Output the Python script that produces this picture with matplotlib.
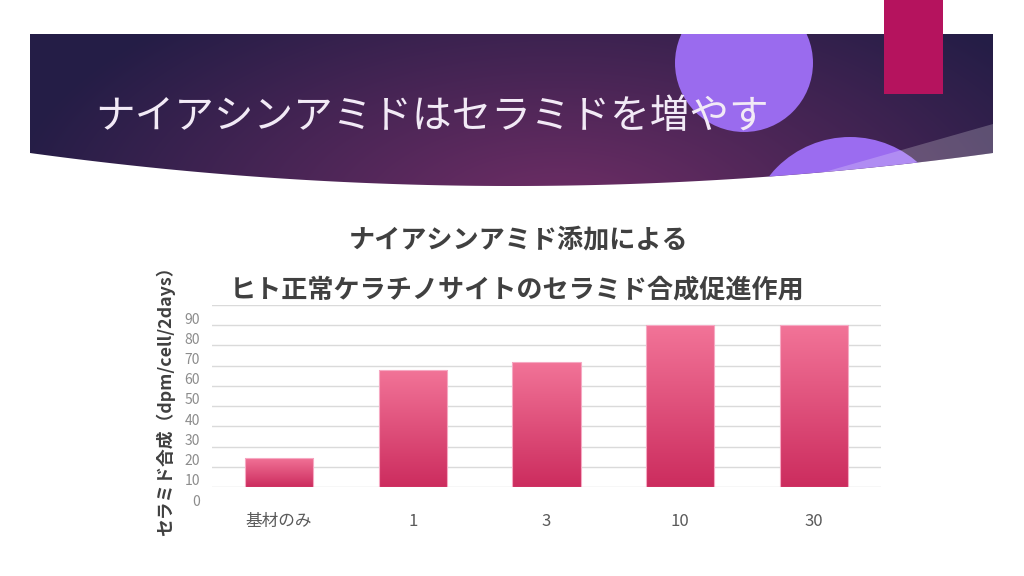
import numpy as np
import matplotlib
matplotlib.use('Agg')
import matplotlib.pyplot as plt
from matplotlib.patches import Rectangle, Circle, PathPatch, Polygon
from matplotlib.path import Path
import matplotlib.transforms as mtransforms

plt.rcParams['font.family'] = ['Noto Sans CJK JP', 'DejaVu Sans']

# ---- data ----
slide_title = 'ナイアシンアミドはセラミドを増やす'
chart_title_1 = 'ナイアシンアミド添加による'
chart_title_2 = 'ヒト正常ケラチノサイトのセラミド合成促進作用'
y_label = 'セラミド合成（dpm/cell/2days）'
categories = ['基材のみ', '1', '3', '10', '30']
values = [14.5, 58, 62, 80, 80]
y_ticks = [0, 10, 20, 30, 40, 50, 60, 70, 80, 90]

W, H = 1024, 576
fig = plt.figure(figsize=(10.24, 5.76), dpi=100)
fig.patch.set_facecolor('white')

# ---- background slide decoration ----
bg = fig.add_axes([0, 0, 1, 1])
bg.set_xlim(0, W)
bg.set_ylim(H, 0)
bg.axis('off')

xs = np.linspace(30, 993, 200)
bottom = 153 + 33 * (1 - ((xs - 511.5) / 481.5) ** 2)
verts = [(30, 34), (993, 34)] + list(zip(xs[::-1], bottom[::-1])) + [(30, 34)]
codes = [Path.MOVETO] + [Path.LINETO] * (len(verts) - 2) + [Path.CLOSEPOLY]
banner_path = Path(verts, codes)
banner = PathPatch(banner_path, facecolor='none', edgecolor='none')
bg.add_patch(banner)

yy, xx = np.mgrid[0:H, 0:W]
t = np.clip(np.sqrt(((xx - 560) / 560.0) ** 2 + ((yy - 215) / 270.0) ** 2), 0, 1)
c_center = np.array([112, 46, 102]) / 255.0
c_edge = np.array([36, 29, 70]) / 255.0
img = c_center * (1 - t[..., None]) + c_edge * t[..., None]
im = bg.imshow(img, extent=(0, W, H, 0), origin='upper', aspect='auto', zorder=1)
im.set_clip_path(banner)

c1 = Circle((744, 63), 69, facecolor='#9a6bee', edgecolor='none', zorder=2)
bg.add_patch(c1)
c1.set_clip_path(banner)
c2 = Circle((850, 240), 103, facecolor='#9b6cf0', edgecolor='none', zorder=2)
bg.add_patch(c2)
c2.set_clip_path(banner)
band = Polygon([(993, 124), (740, 196), (993, 220)], closed=True,
               facecolor='white', alpha=0.22, edgecolor='none', zorder=3)
bg.add_patch(band)
band.set_clip_path(banner)

bg.add_patch(Rectangle((884, 0), 59, 94, facecolor='#b5135e', edgecolor='none', zorder=4))

bg.text(95, 117, slide_title, color='#f2eaf6', fontsize=28.5,
        va='center', ha='left', zorder=5)

# ---- chart ----
ax = fig.add_axes([212 / W, 1 - 487 / H, (881 - 212) / W, (487 - 305) / H])
ax.patch.set_alpha(0)
x = np.arange(len(categories))
bars = ax.bar(x, values, width=0.51, color='none', edgecolor='#f6a9c3',
              linewidth=0.8, zorder=3)
top_c = np.array([242, 116, 152]) / 255.0
bot_c = np.array([204, 44, 94]) / 255.0
g = np.linspace(0, 1, 256)[:, None, None]
grad = bot_c * (1 - g) + top_c * g
for b in bars:
    gi = ax.imshow(grad, extent=(b.get_x(), b.get_x() + b.get_width(), 0, b.get_height()),
                   origin='lower', aspect='auto', zorder=2, interpolation='bilinear')
    gi.set_clip_path(b)

ax.set_xlim(-0.5, len(categories) - 0.5)
ax.set_ylim(0, 90)
ax.set_yticks(y_ticks)
ax.set_xticks(x, categories)
ax.yaxis.grid(True, color='#dadada', linewidth=1)
ax.set_axisbelow(True)
for s in ax.spines.values():
    s.set_visible(False)
ax.tick_params(axis='both', length=0)
ax.tick_params(axis='x', pad=19, labelsize=12, labelcolor='#5a5a5a')
ax.tick_params(axis='y', pad=8.6, labelsize=10, labelcolor='#8c8c8c')
offset = mtransforms.ScaledTranslation(0, -13 / 100, fig.dpi_scale_trans)
for lab in ax.get_yticklabels():
    lab.set_transform(lab.get_transform() + offset)

fig.text(165 / W, 1 - 397 / H, y_label, rotation=90, fontsize=12.8,
         fontweight='bold', color='#404040', va='center', ha='center')
fig.text(519 / W, 1 - 240 / H, chart_title_1, ha='center', va='center',
         fontsize=18.8, fontweight='bold', color='#404040')
fig.text(517 / W, 1 - 290 / H, chart_title_2, ha='center', va='center',
         fontsize=18.8, fontweight='bold', color='#404040')

fig.savefig('out.png', dpi=100)
